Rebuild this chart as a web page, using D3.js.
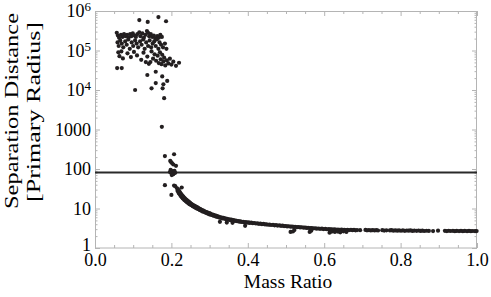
<!DOCTYPE html>
<html>
<head>
<meta charset="utf-8">
<script src="https://cdn.jsdelivr.net/npm/d3@7"></script>
<style>
body { margin: 0; background: #fff; }
svg { display: block; }
</style>
</head>
<body>
<svg width="491" height="297"></svg>
<script>
// wide (detached) orbits, q < ~0.22
var wideOrbits = [
    [0.116,5.9e5],[0.138,5.3e5],[0.166,7.0e5],[0.186,5.5e5],
    [0.057,2.8e5],[0.060,2.4e5],[0.063,2.1e5],[0.068,2.5e5],[0.072,2.2e5],[0.076,2.6e5],[0.080,2.3e5],[0.084,2.5e5],
    [0.088,2.1e5],[0.092,2.6e5],[0.095,2.3e5],[0.099,2.7e5],[0.103,2.4e5],[0.107,2.2e5],[0.111,2.6e5],[0.116,2.9e5],
    [0.119,2.3e5],[0.124,2.7e5],[0.128,2.1e5],[0.132,2.5e5],[0.136,3.1e5],[0.139,2.8e5],[0.142,2.3e5],[0.146,2.6e5],
    [0.150,2.2e5],[0.154,2.4e5],[0.158,2.0e5],[0.163,2.3e5],[0.167,2.1e5],[0.171,2.5e5],[0.175,2.2e5],
    [0.059,1.6e5],[0.062,1.3e5],[0.066,1.8e5],[0.070,1.5e5],[0.074,1.2e5],[0.079,1.7e5],[0.083,1.4e5],[0.087,1.9e5],
    [0.091,1.1e5],[0.096,1.6e5],[0.100,1.3e5],[0.105,1.8e5],[0.109,1.5e5],[0.113,1.2e5],[0.118,1.7e5],[0.122,1.4e5],
    [0.126,1.9e5],[0.130,1.1e5],[0.134,1.6e5],[0.139,1.3e5],[0.143,1.8e5],[0.147,1.2e5],[0.151,1.5e5],[0.155,1.7e5],
    [0.159,1.3e5],[0.162,1.9e5],[0.166,1.1e5],[0.169,1.6e5],[0.173,1.4e5],[0.178,1.2e5],[0.183,1.5e5],[0.187,1.1e5],
    [0.061,9.0e4],[0.064,7.2e4],[0.069,9.5e4],[0.073,6.3e4],[0.058,3.6e4],[0.085,8.5e4],[0.094,6.8e4],[0.102,9.2e4],
    [0.110,7.5e4],[0.121,5.8e4],[0.127,8.8e4],[0.133,5.1e4],[0.137,7.0e4],[0.141,4.6e4],[0.145,5.1e4],[0.148,9.5e4],
    [0.152,6.2e4],[0.156,8.0e4],[0.160,5.5e4],[0.164,7.4e4],[0.167,4.8e4],[0.170,9.0e4],[0.172,6.0e4],[0.174,4.5e4],
    [0.176,7.8e4],[0.179,5.3e4],[0.181,6.6e4],[0.184,4.2e4],[0.188,5.6e4],[0.192,4.7e4],[0.196,6.2e4],[0.200,4.4e4],
    [0.205,5.2e4],[0.212,4.1e4],[0.220,4.9e4],
    [0.070,3.6e4],[0.105,1.0e4],[0.137,2.4e4],[0.159,2.9e4],[0.176,2.2e4],[0.189,1.7e4],[0.159,1.5e4],[0.179,1.4e4],
    [0.148,1.1e4],[0.177,1.1e4],[0.181,6.2e3]
];

// points falling through the limit
var transitionOrbits = [
    [0.175,1170],[0.183,213],[0.207,236],[0.199,150],[0.202,140],[0.197,160],[0.212,120],[0.205,130],
    [0.198,95],[0.203,88],[0.207,82],[0.200,78],[0.205,74],[0.210,80],[0.196,84],[0.208,90],[0.201,70],
    [0.183,39],[0.207,38],[0.200,22],[0.210,37],[0.227,34]
];

// contact / close orbits
var closeOrbits = [
    [0.214,33],[0.216,28],[0.217,31],[0.218,26],[0.219,29],[0.220,24],[0.221,27],[0.222,23],[0.223,25],[0.224,21],
    [0.225,23.5],[0.226,20],[0.227,22],[0.228,19],[0.229,21],[0.230,18],[0.231,20],[0.232,17.5],[0.233,19],[0.234,16.5],
    [0.235,18],[0.236,16],[0.237,17.2],[0.238,15.2],[0.239,16.5],[0.240,14.8],[0.241,16],[0.242,14.2],[0.243,15.3],
    [0.244,13.8],[0.245,14.9],[0.246,13.2],[0.247,14.3],[0.248,12.8],[0.249,13.9],[0.250,12.5],
    [0.252,13.2],[0.253,12.0],[0.255,12.6],[0.256,11.4],[0.258,12.1],[0.259,11.0],[0.261,11.7],[0.262,10.6],
    [0.264,11.2],[0.265,10.2],[0.267,10.8],[0.268,9.9],[0.270,10.4],[0.271,9.6],[0.273,10.0],[0.274,9.2],
    [0.276,9.6],[0.277,8.9],[0.279,9.3],[0.280,8.6],[0.282,9.0],[0.283,8.3],[0.285,8.7],[0.287,8.1],[0.288,8.4],
    [0.290,7.8],[0.292,8.1],[0.293,7.6],[0.295,7.9],[0.297,7.3],[0.299,7.6],[0.300,7.1],
    [0.302,7.4],[0.304,6.9],[0.306,7.1],[0.308,6.7],[0.310,6.9],[0.312,6.5],[0.314,6.7],[0.316,6.3],[0.318,6.5],
    [0.320,6.1],[0.322,6.3],[0.325,5.9],[0.327,6.1],[0.329,5.8],[0.332,5.9],[0.334,5.6],[0.336,5.8],[0.339,5.5],
    [0.341,5.6],[0.344,5.3],[0.346,5.5],[0.349,5.2],[0.352,5.3],[0.354,5.1],[0.357,5.2],[0.360,5.0],[0.363,5.05],
    [0.366,4.85],[0.369,4.95],[0.372,4.75],[0.375,4.8],[0.378,4.65],[0.381,4.7],[0.384,4.55],[0.388,4.6],
    [0.391,4.45],[0.395,4.5],[0.398,4.38],
    [0.327,4.6],[0.345,4.4],[0.360,4.35],[0.393,3.65],
    [0.402,4.45],[0.405,4.32],[0.409,4.38],[0.413,4.25],[0.417,4.3],[0.421,4.17],[0.425,4.22],[0.429,4.1],
    [0.433,4.13],[0.437,4.02],[0.441,4.06],[0.445,3.95],[0.449,3.98],[0.453,3.88],[0.457,3.92],[0.461,3.82],
    [0.466,3.85],[0.470,3.76],[0.474,3.79],[0.478,3.7],[0.483,3.73],[0.487,3.64],[0.491,3.67],[0.495,3.58],
    [0.499,3.61],[0.503,3.52],[0.507,3.55],[0.512,3.47],[0.516,3.5],[0.520,3.42],[0.524,3.45],[0.529,3.37],
    [0.533,3.4],[0.537,3.32],[0.541,3.35],[0.546,3.27],[0.550,3.3],[0.554,3.22],[0.558,3.25],[0.563,3.18],
    [0.567,3.2],[0.571,3.13],[0.576,3.16],[0.580,3.09],[0.585,3.12],[0.589,3.05],[0.594,3.08],[0.598,3.02],
    [0.603,3.04],[0.607,2.98],[0.612,3.01],[0.616,2.95],[0.620,2.98],[0.624,2.92],[0.628,2.96],[0.632,2.9],
    [0.636,2.93],[0.640,2.88],[0.645,2.92],[0.649,2.86],[0.653,2.9],[0.657,2.85],[0.661,2.89],[0.665,2.84],
    [0.512,2.55],[0.518,2.62],[0.522,2.85],[0.562,2.55],[0.566,2.75],[0.614,2.45],[0.620,2.6],[0.628,2.55],
    [0.636,2.6],[0.642,2.5],[0.650,2.65],[0.658,2.55],
    [0.670,2.88],[0.674,2.82],[0.678,2.87],[0.682,2.8],[0.686,2.85],[0.694,2.83],[0.708,2.86],[0.712,2.8],
    [0.717,2.84],[0.722,2.78],[0.727,2.83],[0.732,2.79],[0.737,2.82],[0.741,2.77],[0.752,2.82],[0.757,2.76],
    [0.763,2.8],[0.772,2.78],[0.776,2.83],[0.781,2.75],[0.786,2.8],[0.791,2.74],[0.796,2.79],[0.801,2.73],
    [0.806,2.78],[0.811,2.72],[0.816,2.77],[0.821,2.74],[0.826,2.78],[0.831,2.71],[0.836,2.76],[0.842,2.72],
    [0.847,2.77],[0.852,2.7],[0.857,2.74],[0.862,2.69],[0.868,2.73],[0.874,2.7],[0.885,2.68],[0.898,2.74],
    [0.916,2.72],[0.921,2.68],[0.926,2.73],[0.931,2.69],[0.937,2.72],[0.942,2.67],[0.947,2.71],[0.953,2.68],
    [0.958,2.72],[0.963,2.67],[0.968,2.71],[0.974,2.66],[0.979,2.7],[0.984,2.66],[0.989,2.69],[0.995,2.66],
    [0.999,2.68]
];

var rocheLimit = 82;

var xMajor = [0, 0.2, 0.4, 0.6, 0.8, 1.0];
var xMinor = [0.05, 0.1, 0.15, 0.25, 0.3, 0.35, 0.45, 0.5, 0.55, 0.65, 0.7, 0.75, 0.85, 0.9, 0.95];
var yMajor = [1, 10, 100, 1000, 1e4, 1e5, 1e6];

var serif = 'Liberation Serif';
var frameColor = '#b4b4b4';
var dotColor = '#231f20';

var svg = d3.select('svg');

var x = d3.scaleLinear().domain([0, 1]).range([95, 477]);
var y = d3.scaleLog().domain([1, 1e6]).range([248, 11]);

var yMinor = y.ticks().filter(function(d) { return yMajor.indexOf(d) < 0; });

function cleanAxis(g) {
    g.attr('font-family', serif);
    g.select('.domain').remove();
    g.selectAll('.tick line').attr('stroke', frameColor).attr('stroke-width', 1);
}

// minor ticks on all four sides
svg.append('g').attr('transform', 'translate(0,248)')
    .call(d3.axisBottom(x).tickValues(xMinor).tickSize(-3).tickFormat(''))
    .call(cleanAxis);
svg.append('g').attr('transform', 'translate(0,11)')
    .call(d3.axisTop(x).tickValues(xMinor).tickSize(-3).tickFormat(''))
    .call(cleanAxis);
svg.append('g').attr('transform', 'translate(95,0)')
    .call(d3.axisLeft(y).tickValues(yMinor).tickSize(-2.5).tickFormat(''))
    .call(cleanAxis);
svg.append('g').attr('transform', 'translate(477,0)')
    .call(d3.axisRight(y).tickValues(yMinor).tickSize(-2.5).tickFormat(''))
    .call(cleanAxis);

// major ticks
var xAxis = svg.append('g').attr('transform', 'translate(0,248)')
    .call(d3.axisBottom(x).tickValues(xMajor).tickSize(-5).tickPadding(5).tickFormat(d3.format('.1f')))
    .call(cleanAxis);
svg.append('g').attr('transform', 'translate(0,11)')
    .call(d3.axisTop(x).tickValues(xMajor).tickSize(-5).tickFormat(''))
    .call(cleanAxis);
var yAxis = svg.append('g').attr('transform', 'translate(95,0)')
    .call(d3.axisLeft(y).tickValues(yMajor).tickSize(-5).tickPadding(4).tickFormat(function(d) { return String(d); }))
    .call(cleanAxis);
svg.append('g').attr('transform', 'translate(477,0)')
    .call(d3.axisRight(y).tickValues(yMajor).tickSize(-5).tickFormat(''))
    .call(cleanAxis);

xAxis.selectAll('text').attr('font-size', 18).style('font-family', serif).style('fill', '#000');
yAxis.selectAll('text').attr('font-size', 18).style('font-family', serif).style('fill', '#000')
    .each(function(d) {
        if (d === 1) d3.select(this).attr('dy', '0.12em');
        if (d >= 1e4) {
            var t = d3.select(this).text('');
            t.append('tspan').text('10');
            t.append('tspan').attr('dy', '-0.45em').attr('font-size', 13).text(String(Math.round(Math.log10(d))));
        }
    });

// frame
svg.append('rect')
    .attr('x', 95.5).attr('y', 11.5)
    .attr('width', 381).attr('height', 236.5)
    .attr('fill', 'none').attr('stroke', frameColor).attr('stroke-width', 1);

// Roche limit line
svg.append('line')
    .attr('x1', x(0)).attr('x2', x(1))
    .attr('y1', y(rocheLimit)).attr('y2', y(rocheLimit))
    .attr('stroke', '#2a2a2a').attr('stroke-width', 2);

// points
var allPoints = wideOrbits.concat(transitionOrbits, closeOrbits);
svg.append('g').selectAll('circle')
    .data(allPoints)
    .enter().append('circle')
    .attr('cx', function(d) { return x(d[0]); })
    .attr('cy', function(d) { return y(d[1]); })
    .attr('r', 2.1)
    .attr('fill', dotColor);

// axis titles
svg.append('text')
    .attr('x', 288).attr('y', 288)
    .attr('text-anchor', 'middle')
    .attr('font-size', 19.5)
    .style('font-family', serif)
    .text('Mass Ratio');

svg.append('text')
    .attr('transform', 'translate(17.5,111) rotate(-90)')
    .attr('text-anchor', 'middle')
    .attr('font-size', 19)
    .style('font-family', serif)
    .attr('textLength', 196).attr('lengthAdjust', 'spacingAndGlyphs')
    .text('Separation Distance');

svg.append('text')
    .attr('transform', 'translate(40,112) rotate(-90)')
    .attr('text-anchor', 'middle')
    .attr('font-size', 19)
    .style('font-family', serif)
    .attr('textLength', 180).attr('lengthAdjust', 'spacingAndGlyphs')
    .text('[Primary Radius]');
</script>
</body>
</html>
